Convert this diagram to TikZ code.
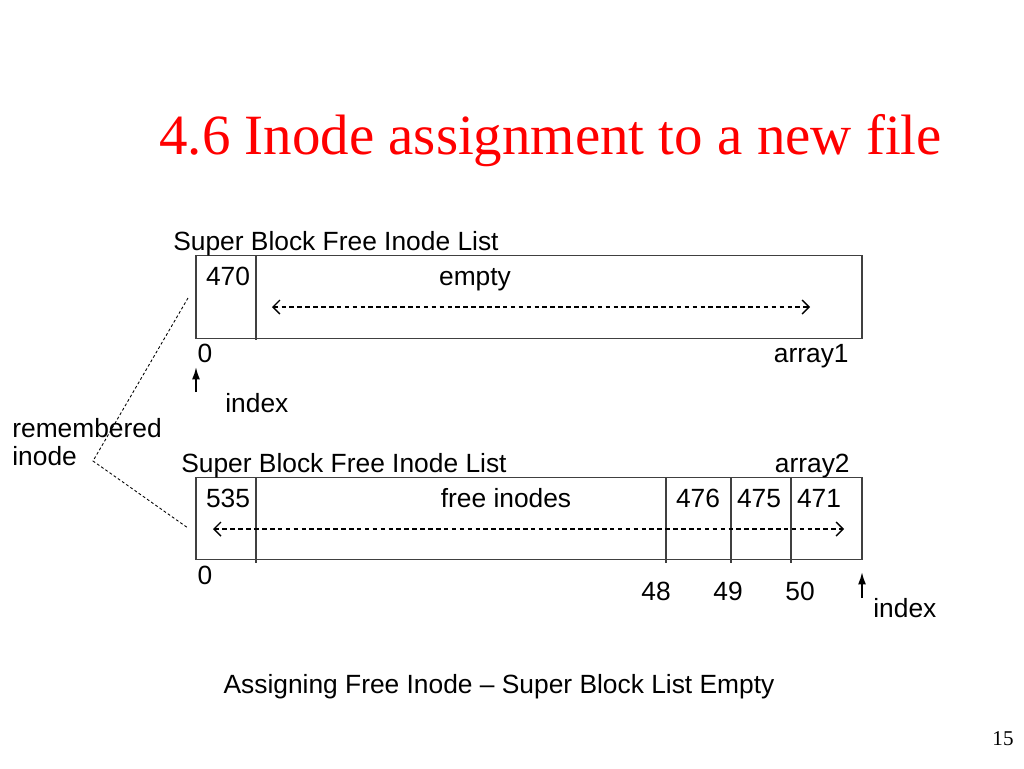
\documentclass[tikz,border=0pt]{standalone}
\usepackage{fontspec}
\setmainfont{Liberation Sans}
\newfontfamily\serifface{Liberation Serif}
\usepackage{tikz}
\usetikzlibrary{positioning,arrows.meta}
\definecolor{titlered}{RGB}{255,0,0}
\tikzset{list box/.style={draw=black!75,line width=0.8pt,minimum width=13.32cm,minimum height=1.65cm,inner sep=0pt},}
\tikzset{cell line/.style={draw=black!75,line width=0.8pt},}
\tikzset{slot text/.style={font=\fontsize{15}{18}\selectfont,inner sep=0pt,anchor=base},}
\tikzset{range arrow/.style={dash pattern=on 2.6pt off 1.9pt,line width=0.75pt,{Straight Barb[length=4pt,width=8pt]}-{Straight Barb[length=4pt,width=8pt]}},}
\tikzset{index arrow/.style={line width=1pt,-{Latex[length=7pt,width=4.5pt]}},}
\tikzset{note line/.style={dash pattern=on 1.6pt off 1.3pt,line width=0.5pt},}

\begin{document}
\begin{tikzpicture}[x=0.02cm,y=-0.02cm]
       \fill[white] (0,0) rectangle (1024,768);
       \useasboundingbox (0,0) rectangle (1024,768);

       \node[font=\serifface\fontsize{32.4}{36}\selectfont,text=titlered,anchor=base west,inner sep=0pt] (title) at (159,154) {4.6 Inode assignment to a new file};

       % first list
       \node[list box] (list1) at (529,297) {};
       \draw[cell line] (256,256) -- (256,340);
       \node[slot text,anchor=base west] (head1) at (173,250) {Super Block Free Inode List};
       \node[slot text] (n470) at (228,285) {470};
       \node[slot text] (empty) at (475,285) {empty};
       \coordinate (left1) at (272,307);
       \coordinate (right1) at (810,307);
       \draw[range arrow] (left1) -- (right1);
       \node[slot text] (zero1) at (205,362) {0};
       \node[slot text,anchor=base east] (array1) at (849,362) {array1};
       \coordinate (foot1) at (196,392);
       \coordinate (tip1) at (196,367);
       \draw[index arrow] (foot1) -- (tip1);
       \node[slot text,anchor=base west] (index1) at (225,412) {index};

       % remembered inode
       \node[slot text,anchor=base west] (remembered) at (12,437) {remembered};
       \node[slot text,anchor=base west] (inode) at (12,465) {inode};
       \coordinate (bend) at (93,461);
       \coordinate (upper) at (188,298);
       \coordinate (lower) at (188,528);
       \draw[note line] (upper) -- (bend) -- (lower);

       % second list
       \node[list box] (list2) at (529,518.5) {};
       \foreach \x in {256,666,731,791}
             \draw[cell line] (\x,477.5) -- (\x,563);
       \node[slot text,anchor=base west] (head2) at (181,472) {Super Block Free Inode List};
       \node[slot text,anchor=base east] (array2) at (850,472) {array2};
       \node[slot text] (n535) at (228,507) {535};
       \node[slot text] (free) at (506,507) {free inodes};
       \node[slot text] (n476) at (698,507) {476};
       \node[slot text] (n475) at (759,507) {475};
       \node[slot text] (n471) at (819,507) {471};
       \coordinate (left2) at (213,529);
       \coordinate (right2) at (844,529);
       \draw[range arrow] (left2) -- (right2);
       \node[slot text] (zero2) at (205,584) {0};
       \node[slot text] (n48) at (656,600) {48};
       \node[slot text] (n49) at (728,600) {49};
       \node[slot text] (n50) at (800,600) {50};
       \coordinate (foot2) at (862,598);
       \coordinate (tip2) at (862,572);
       \draw[index arrow] (foot2) -- (tip2);
       \node[slot text,anchor=base west] (index2) at (873,617) {index};

       \node[slot text] (caption) at (499,693) {Assigning Free Inode \textendash{} Super Block List Empty};
       \node[font=\serifface\fontsize{12}{14}\selectfont,anchor=base,inner sep=0pt] (page) at (1003,745) {15};
    \end{tikzpicture}
\end{document}
